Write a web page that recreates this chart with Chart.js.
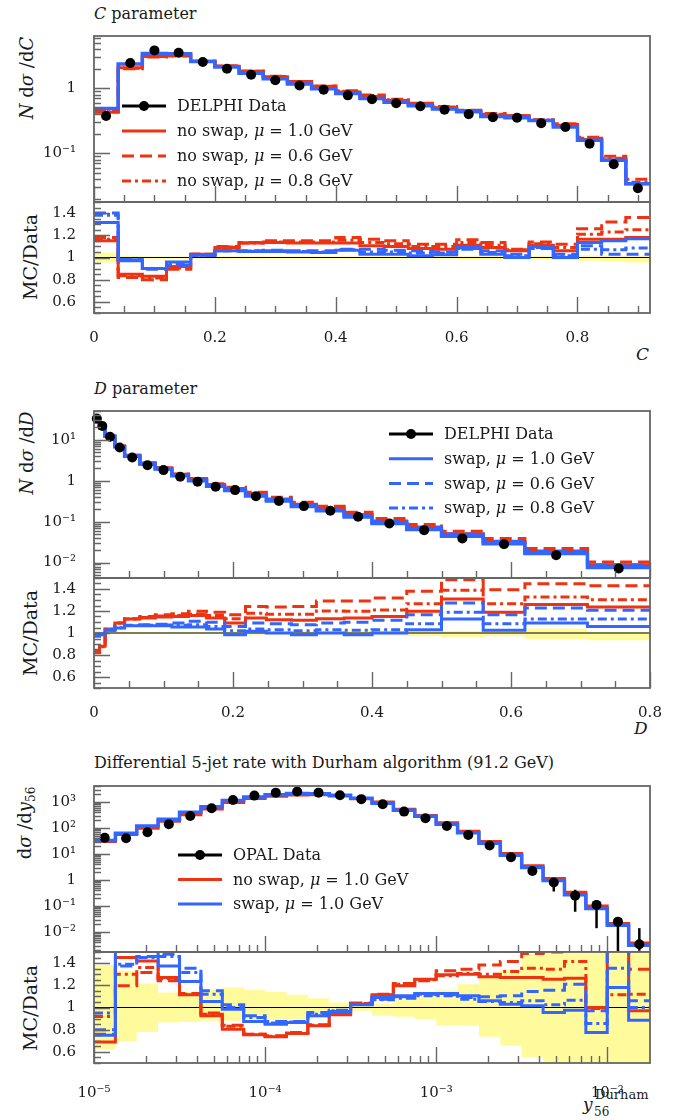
<!DOCTYPE html>
<html>
<head>
<meta charset="utf-8">
<script src="https://cdn.jsdelivr.net/npm/chart.js@4.4.1/dist/chart.umd.min.js"></script>
<style>
  body { margin: 0; width: 687px; height: 1120px; position: relative; overflow: hidden; background: #fff;
         font-family: "DejaVu Serif", serif; color: #1a1a1a; }
  .box { position: absolute; left: 0; width: 687px; }
  .t { position: absolute; white-space: nowrap; font-size: 16px; line-height: 20px; }
  .rot { position: absolute; white-space: nowrap; font-size: 18px; transform: translate(-50%, -50%) rotate(-90deg); }
  .rot.mc { font-size: 19px; }
</style>
</head>
<body>

<div class="t" style="left:94px;top:4px"><i>C</i> parameter</div>
<div class="rot" style="left:26px;top:78px"><i>N</i> d<i>σ</i> /d<i>C</i></div>
<div class="rot mc" style="left:30px;top:257px">MC/Data</div>
<div class="t" style="left:636px;top:344px;font-size:17px"><i>C</i></div>

<div class="t" style="left:94px;top:379px"><i>D</i> parameter</div>
<div class="rot" style="left:26px;top:453px"><i>N</i> d<i>σ</i> /d<i>D</i></div>
<div class="rot mc" style="left:30px;top:633px">MC/Data</div>
<div class="t" style="left:634px;top:718px;font-size:17px"><i>D</i></div>

<div class="t" style="left:94px;top:753px">Differential 5-jet rate with Durham algorithm (91.2 GeV)</div>
<div class="rot" style="left:26px;top:823px">d<i>σ</i> /d<i>y</i><sub style="font-size:12px">56</sub></div>
<div class="rot mc" style="left:30px;top:1008px">MC/Data</div>
<div class="t" style="left:595px;top:1085px;font-size:13px">Durham</div>
<div class="t" style="left:583px;top:1094px;font-size:17px"><i>y</i></div>
<div class="t" style="left:594px;top:1102px;font-size:12px">56</div>

<script>
// ---------------------------------------------------------------
// C parameter (DELPHI), bins of 0.04
// ---------------------------------------------------------------
const C_edges = [0, 0.04, 0.08, 0.12, 0.16, 0.20, 0.24, 0.28, 0.32, 0.36, 0.40, 0.44,
                 0.48, 0.52, 0.56, 0.60, 0.64, 0.68, 0.72, 0.76, 0.80, 0.84, 0.88, 0.92];
const C_data = [0.375, 2.45, 3.84, 3.54, 2.54, 2.01, 1.62, 1.33, 1.11, 0.95, 0.78, 0.68,
                0.59, 0.53, 0.47, 0.40, 0.36, 0.354, 0.29, 0.254, 0.14, 0.068, 0.029];
const C_noSwap10 = [0.43, 2.08, 3.15, 3.2, 2.62, 2.19, 1.83, 1.51, 1.25, 1.07, 0.88, 0.75,
                    0.65, 0.57, 0.505, 0.445, 0.39, 0.375, 0.32, 0.27, 0.163, 0.079, 0.034];
const C_noSwap06 = [0.44, 2.0, 3.05, 3.15, 2.62, 2.21, 1.84, 1.53, 1.28, 1.09, 0.92, 0.79,
                    0.68, 0.59, 0.525, 0.46, 0.41, 0.38, 0.33, 0.285, 0.176, 0.09, 0.04];
const C_noSwap08 = [0.435, 2.04, 3.1, 3.18, 2.62, 2.2, 1.83, 1.52, 1.27, 1.08, 0.9, 0.77,
                    0.665, 0.58, 0.515, 0.455, 0.4, 0.378, 0.326, 0.277, 0.17, 0.084, 0.036];
const C_swap10 = [0.49, 2.38, 3.45, 3.4, 2.59, 2.13, 1.71, 1.40, 1.165, 0.99, 0.83, 0.70,
                  0.61, 0.54, 0.48, 0.435, 0.37, 0.354, 0.32, 0.254, 0.159, 0.078, 0.034];
// MC/Data
const C_rNoSwap10 = [1.15, 0.85, 0.83, 0.92, 1.03, 1.09, 1.13, 1.135, 1.13, 1.13, 1.13, 1.105,
                     1.10, 1.08, 1.075, 1.11, 1.09, 1.06, 1.11, 1.06, 1.165, 1.165, 1.18];
const C_rNoSwap06 = [1.18, 0.82, 0.80, 0.895, 1.03, 1.10, 1.135, 1.15, 1.15, 1.15, 1.18, 1.165,
                     1.15, 1.12, 1.12, 1.16, 1.135, 1.075, 1.14, 1.12, 1.26, 1.32, 1.36];
const C_rNoSwap08 = [1.165, 0.835, 0.815, 0.905, 1.03, 1.095, 1.13, 1.14, 1.14, 1.14, 1.155, 1.135,
                     1.125, 1.10, 1.10, 1.135, 1.11, 1.07, 1.125, 1.09, 1.21, 1.23, 1.25];
const C_rSwap10 = [1.315, 0.97, 0.90, 0.96, 1.02, 1.06, 1.055, 1.055, 1.05, 1.045, 1.065, 1.03,
                   1.03, 1.015, 1.025, 1.09, 1.03, 1.0, 1.10, 1.0, 1.135, 1.15, 1.17];
const C_rSwap06 = [1.40, 0.985, 0.895, 0.93, 1.02, 1.06, 1.06, 1.065, 1.06, 1.06, 1.075, 1.075,
                   1.065, 1.06, 1.05, 1.075, 1.06, 1.03, 1.08, 1.03, 1.105, 1.03, 1.03];
const C_rSwap08 = [1.38, 0.98, 0.90, 0.945, 1.02, 1.06, 1.058, 1.06, 1.055, 1.05, 1.07, 1.05,
                   1.05, 1.04, 1.04, 1.08, 1.045, 1.015, 1.09, 1.015, 1.075, 1.07, 1.085];
const C_bandHi = [1.045, 1.015, 1.012, 1.012, 1.012, 1.012, 1.012, 1.012, 1.012, 1.012, 1.012, 1.012,
                  1.012, 1.012, 1.012, 1.015, 1.015, 1.015, 1.015, 1.015, 1.02, 1.02, 1.02];
const C_bandLo = [0.955, 0.985, 0.988, 0.988, 0.988, 0.988, 0.988, 0.988, 0.988, 0.988, 0.988, 0.988,
                  0.988, 0.988, 0.988, 0.985, 0.985, 0.985, 0.98, 0.975, 0.97, 0.965, 0.955];

// ---------------------------------------------------------------
// D parameter (DELPHI), variable bins
// ---------------------------------------------------------------
const D_edges = [0, 0.008, 0.016, 0.03, 0.044, 0.066, 0.088, 0.112, 0.136, 0.162, 0.188, 0.218,
                 0.248, 0.284, 0.32, 0.36, 0.40, 0.45, 0.50, 0.56, 0.62, 0.71, 0.80];
const D_data = [33, 21.7, 11.9, 6.5, 3.7, 2.4, 1.82, 1.25, 0.95, 0.71, 0.59, 0.42,
                0.32, 0.24, 0.185, 0.132, 0.0905, 0.062, 0.039, 0.028, 0.0152, 0.0072];
const D_noSwap10 = [27.5, 19.1, 12.3, 7.1, 4.17, 2.73, 2.08, 1.44, 1.1, 0.807, 0.643, 0.477,
                    0.358, 0.268, 0.209, 0.15, 0.104, 0.074, 0.051, 0.0333, 0.0191, 0.0089];
const D_noSwap06 = [27.1, 18.9, 12.3, 7.1, 4.18, 2.76, 2.12, 1.47, 1.14, 0.843, 0.689, 0.521,
                    0.396, 0.298, 0.239, 0.17, 0.119, 0.0856, 0.0579, 0.039, 0.022, 0.0103];
const D_swap10 = [32, 21.4, 12.2, 6.8, 3.95, 2.56, 1.94, 1.32, 1.0, 0.736, 0.581, 0.426,
                  0.32, 0.236, 0.185, 0.13, 0.0905, 0.0639, 0.044, 0.0287, 0.0166, 0.0076];
const D_swap06 = [32.5, 21.5, 12.3, 6.8, 3.96, 2.58, 1.97, 1.36, 1.05, 0.779, 0.625, 0.458,
                  0.347, 0.258, 0.202, 0.145, 0.101, 0.0724, 0.0496, 0.0327, 0.0187, 0.0087];
const D_swap08 = [32.3, 21.4, 12.2, 6.8, 3.95, 2.57, 1.95, 1.34, 1.02, 0.753, 0.602, 0.435,
                  0.33, 0.245, 0.19, 0.135, 0.093, 0.0673, 0.0463, 0.0304, 0.0171, 0.0081];
const D_rNoSwap10 = [0.833, 0.88, 1.036, 1.09, 1.127, 1.136, 1.145, 1.15, 1.158, 1.136, 1.09, 1.136,
                     1.12, 1.115, 1.13, 1.136, 1.15, 1.197, 1.31, 1.188, 1.258, 1.236];
const D_rNoSwap06 = [0.82, 0.87, 1.03, 1.09, 1.13, 1.15, 1.167, 1.176, 1.197, 1.188, 1.167, 1.24,
                     1.236, 1.24, 1.29, 1.29, 1.318, 1.38, 1.485, 1.394, 1.448, 1.43];
const D_rNoSwap08 = [0.825, 0.875, 1.033, 1.09, 1.128, 1.14, 1.155, 1.16, 1.17, 1.16, 1.13, 1.18,
                     1.17, 1.17, 1.2, 1.197, 1.21, 1.267, 1.388, 1.267, 1.327, 1.303];
const D_rSwap10 = [0.97, 0.985, 1.025, 1.045, 1.067, 1.067, 1.067, 1.055, 1.055, 1.036, 0.985, 1.015,
                   1.0, 0.985, 1.0, 0.985, 1.0, 1.03, 1.127, 1.024, 1.09, 1.06];
const D_rSwap06 = [0.985, 0.99, 1.03, 1.05, 1.07, 1.075, 1.08, 1.09, 1.106, 1.097, 1.06, 1.09,
                   1.085, 1.076, 1.09, 1.097, 1.115, 1.167, 1.273, 1.167, 1.227, 1.206];
const D_rSwap08 = [0.98, 0.987, 1.027, 1.047, 1.068, 1.07, 1.072, 1.07, 1.075, 1.06, 1.02, 1.036,
                   1.03, 1.02, 1.03, 1.024, 1.03, 1.085, 1.188, 1.085, 1.127, 1.127];
const D_bandHi = [1.02, 1.015, 1.01, 1.01, 1.01, 1.01, 1.01, 1.01, 1.01, 1.01, 1.012, 1.012,
                  1.012, 1.015, 1.02, 1.025, 1.025, 1.03, 1.02, 1.02, 1.04, 1.01];
const D_bandLo = [0.98, 0.985, 0.99, 0.99, 0.99, 0.99, 0.99, 0.99, 0.99, 0.99, 0.988, 0.985,
                  0.985, 0.982, 0.98, 0.975, 0.975, 0.97, 0.96, 0.97, 0.945, 0.935];

// ---------------------------------------------------------------
// Differential 5-jet rate, Durham (OPAL), 8 bins per decade
// ---------------------------------------------------------------
const Y_edges = [1.0e-5, 1.334e-5, 1.778e-5, 2.371e-5, 3.162e-5, 4.217e-5, 5.623e-5, 7.499e-5,
                 1.0e-4, 1.334e-4, 1.778e-4, 2.371e-4, 3.162e-4, 4.217e-4, 5.623e-4, 7.499e-4,
                 1.0e-3, 1.334e-3, 1.778e-3, 2.371e-3, 3.162e-3, 4.217e-3, 5.623e-3, 7.499e-3,
                 1.0e-2, 1.334e-2, 1.778e-2];
const Y_data = [42, 40, 68, 138, 290, 570, 1190, 1750, 2280, 2500, 2280, 1800, 1280,
                815, 425, 235, 119, 54, 21, 7.5, 2.2, 0.8, 0.25, 0.11, 0.025, 0.0034];
const Y_errLo = [null, null, null, null, null, null, null, null, null, null, null, null, null,
                 null, null, null, null, null, null, null, 1.9, 0.36, 0.06, 0.014, 0.0005, 0.0019];
const Y_errHi = [null, null, null, null, null, null, null, null, null, null, null, null, null,
                 null, null, null, null, null, null, null, 2.6, 1.1, 0.42, 0.16, 0.035, 0.014];
const Y_noSwap10 = [30, 56, 97, 180, 320, 540, 950, 1350, 1650, 1850, 1880, 1700, 1320,
                    1000, 520, 300, 160, 74, 30, 10.5, 3.5, 1.15, 0.34, 0.1, 0.021, 0.0038];
const Y_swap10 = [33, 62, 118, 215, 400, 650, 1130, 1560, 1900, 2100, 2050, 1800, 1380,
                  900, 480, 280, 140, 65, 26, 9.0, 3.0, 0.95, 0.27, 0.08, 0.018, 0.0031];
const Y_rNoSwap10 = [0.69, 1.45, 1.42, 1.27, 1.114, 0.925, 0.805, 0.754, 0.736, 0.766, 0.835, 0.934, 1.03,
                     1.114, 1.195, 1.255, 1.294, 1.30, 1.276, 1.27, 1.27, 1.255, 1.264, 1.0, 1.6, 0.97];
const Y_rNoSwap06 = [0.76, 1.195, 1.315, 1.24, 1.126, 0.95, 0.84, 0.76, 0.745, 0.775, 0.845, 0.945, 1.04,
                     1.12, 1.216, 1.24, 1.33, 1.345, 1.384, 1.414, 1.486, 1.5, 1.55, 1.6, 1.6, 1.345];
const Y_rNoSwap08 = [0.92, 1.30, 1.36, 1.26, 1.12, 0.94, 0.83, 0.76, 0.74, 0.77, 0.84, 0.94, 1.035,
                     1.11, 1.21, 1.25, 1.285, 1.306, 1.30, 1.324, 1.354, 1.345, 1.414, 0.99, 1.114, 1.12];
const Y_rSwap10 = [0.75, 1.6, 1.6, 1.375, 1.234, 1.054, 0.985, 0.874, 0.85, 0.865, 0.925, 0.964, 1.024,
                   1.09, 1.105, 1.126, 1.126, 1.105, 1.06, 1.03, 1.015, 0.955, 0.976, 0.775, 1.18, 0.886];
const Y_rSwap06 = [0.80, 1.375, 1.46, 1.48, 1.354, 1.15, 1.024, 0.925, 0.874, 0.874, 0.955, 0.975, 1.03,
                   1.075, 1.096, 1.12, 1.114, 1.09, 1.096, 1.105, 1.144, 1.156, 1.21, 0.97, 1.55, 1.06];
const Y_rSwap08 = [0.95, 1.39, 1.45, 1.46, 1.315, 1.12, 1.0, 0.91, 0.86, 0.87, 0.94, 0.97, 1.028,
                   1.07, 1.084, 1.105, 1.105, 1.075, 1.054, 1.045, 1.06, 1.024, 1.066, 0.856, 1.354, 1.0];
const Y_bandHi = [1.384, 1.33, 1.216, 1.135, 1.14, 1.16, 1.18, 1.16, 1.14, 1.114, 1.084, 1.045, 1.03,
                  1.036, 1.075, 1.12, 1.156, 1.21, 1.27, 1.345, 1.48, 1.6, 1.6, 1.6, 1.6, 1.6];
const Y_bandLo = [0.625, 0.694, 0.78, 0.865, 0.87, 0.88, 0.88, 0.88, 0.885, 0.89, 0.905, 0.94, 0.97,
                  0.925, 0.916, 0.895, 0.835, 0.835, 0.736, 0.655, 0.55, 0.4, 0.4, 0.4, 0.4, 0.4];

// tick labels
const ratioTicks = [0.6, 0.8, 1, 1.2, 1.4];
const ratioLabels = ['0.6', '0.8', '1', '1.2', '1.4'];
const linTicks = [0, 0.2, 0.4, 0.6, 0.8];
const linLabels = ['0', '0.2', '0.4', '0.6', '0.8'];
const yjTicks = [1e-5, 1e-4, 1e-3, 1e-2];
const yjLabels = ['10⁻⁵', '10⁻⁴', '10⁻³', '10⁻²'];
const C_mainTicks = [0.1, 1];
const C_mainLabels = ['10⁻¹', '1'];
const D_mainTicks = [0.01, 0.1, 1, 10];
const D_mainLabels = ['10⁻²', '10⁻¹', '1', '10¹'];
const Y_mainTicks = [0.01, 0.1, 1, 10, 100, 1000];
const Y_mainLabels = ['10⁻²', '10⁻¹', '1', '10¹', '10²', '10³'];

// ---------------------------------------------------------------
const RED = '#ee3311', BLUE = '#3366ff', BAND = '#fffb9c', FRAME = '#666';
const DASH = [12, 6], DASHDOT = [9, 4, 3, 4];
const PAD = 26;   // room above/below each frame so tick-label padding never moves the frame
const FONT = '"DejaVu Serif", serif';

function stepPts(edges, vals) {
  return edges.map((e, i) => ({ x: e, y: vals[Math.min(i, vals.length - 1)] }));
}
function centerPts(edges, vals, log) {
  return vals.map((v, i) => ({
    x: log ? Math.sqrt(edges[i] * edges[i + 1]) : (edges[i] + edges[i + 1]) / 2, y: v }));
}
function step(edges, vals, color, dash, width, order) {
  return { data: stepPts(edges, vals), borderColor: color, borderDash: dash || [], borderWidth: width,
           stepped: true, pointRadius: 0, fill: false, order: order, clip: 0,
           borderJoinStyle: 'miter', borderCapStyle: 'butt' };
}
function dataSet(edges, vals, log, lo, hi) {
  return { data: centerPts(edges, vals, log), showLine: false, pointRadius: 5,
           pointBackgroundColor: '#000', pointBorderColor: '#000', pointBorderWidth: 0,
           order: 0, clip: 6, errLo: lo, errHi: hi };
}
function ratioSets(edges, r, lo, hi) {
  const x0 = edges[0], x1 = edges[edges.length - 1];
  return [
    { data: stepPts(edges, hi), stepped: true, borderWidth: 0, pointRadius: 0,
      backgroundColor: BAND, fill: '+1', order: 20, clip: 0 },
    { data: stepPts(edges, lo), stepped: true, borderWidth: 0, pointRadius: 0, fill: false, order: 21, clip: 0 },
    { data: [{ x: x0, y: 1 }, { x: x1, y: 1 }], borderColor: '#000', borderWidth: 1,
      pointRadius: 0, fill: false, order: 10, clip: 0 },
    step(edges, r[0], RED, null, 3, 6),
    step(edges, r[1], RED, DASH, 3, 7),
    step(edges, r[2], RED, DASHDOT, 3, 8),
    step(edges, r[3], BLUE, null, 3, 3),
    step(edges, r[4], BLUE, DASH, 3, 4),
    step(edges, r[5], BLUE, DASHDOT, 3, 5),
  ];
}

// tick marks inside the frame, plus frame and error bars
function tickList(scale, st) {
  const out = [];
  if (scale.type === 'logarithmic') {
    for (let e = Math.floor(Math.log10(scale.min)); e <= Math.ceil(Math.log10(scale.max)); e++) {
      for (let m = 1; m <= 9; m++) {
        const v = m * Math.pow(10, e);
        if (v >= scale.min * 0.999 && v <= scale.max * 1.001) out.push({ v: v, major: m === 1 });
      }
    }
  } else {
    for (let k = Math.ceil(scale.min / st[0] - 1e-6); k * st[0] <= scale.max + 1e-9; k++) {
      const v = k * st[0], q = v / st[1];
      out.push({ v: v, major: Math.abs(q - Math.round(q)) < 1e-6 });
    }
  }
  return out;
}
const framePlugin = {
  id: 'frame',
  afterDatasetsDraw(chart, args, opts) {
    const { ctx, chartArea: a, scales } = chart;
    ctx.save();
    // error bars
    ctx.beginPath();
    ctx.rect(a.left, a.top, a.width, a.height);
    ctx.clip();
    chart.data.datasets.forEach((ds, i) => {
      if (!ds.errLo) return;
      const meta = chart.getDatasetMeta(i);
      ctx.strokeStyle = '#000';
      ctx.lineWidth = 2.5;
      ds.errLo.forEach((lo, j) => {
        if (lo == null) return;
        const x = meta.data[j].x;
        ctx.beginPath();
        ctx.moveTo(x, scales.y.getPixelForValue(lo));
        ctx.lineTo(x, scales.y.getPixelForValue(ds.errHi[j]));
        ctx.stroke();
      });
    });
    ctx.restore();
    ctx.save();
    ctx.strokeStyle = FRAME;
    ctx.lineWidth = 1.4;
    ctx.beginPath();
    tickList(scales.x, opts.xStep).forEach(t => {
      const px = Math.round(scales.x.getPixelForValue(t.v)) + 0.5;
      ctx.moveTo(px, a.bottom);
      ctx.lineTo(px, a.bottom - (t.major ? 16 : 7));
    });
    tickList(scales.y, opts.yStep).forEach(t => {
      const py = Math.round(scales.y.getPixelForValue(t.v)) + 0.5;
      ctx.moveTo(a.left, py);
      ctx.lineTo(a.left + (t.major ? 16 : 7), py);
    });
    ctx.stroke();
    ctx.lineWidth = 1.8;
    ctx.strokeRect(a.left, a.top, a.width, a.height);
    ctx.restore();
  }
};

// legend drawn inside the plot area
const legendPlugin = {
  id: 'legendBox',
  afterDraw(chart, args, opts) {
    if (!opts.items) return;
    const { ctx, chartArea: a } = chart;
    ctx.save();
    opts.items.forEach((it, i) => {
      const y = a.top + opts.y + i * opts.rowH;
      const x0 = a.left + opts.x, x1 = x0 + 44;
      ctx.strokeStyle = it.color;
      ctx.lineWidth = 3;
      ctx.setLineDash(it.dash || []);
      ctx.beginPath();
      ctx.moveTo(x0, y);
      ctx.lineTo(x1, y);
      ctx.stroke();
      ctx.setLineDash([]);
      if (it.marker) {
        ctx.fillStyle = '#000';
        ctx.beginPath();
        ctx.arc((x0 + x1) / 2, y, 5, 0, Math.PI * 2);
        ctx.fill();
      }
      ctx.fillStyle = '#1a1a1a';
      ctx.textBaseline = 'middle';
      let tx = x1 + 11;
      it.label.split(/(μ)/).forEach(part => {
        ctx.font = (part === 'μ' ? 'italic ' : '') + '16px ' + FONT;
        ctx.fillText(part, tx, y + 1);
        tx += ctx.measureText(part).width;
      });
    });
    ctx.restore();
  }
};

function panel(frameTop, frameBottom, xAxisH, o) {
  const below = xAxisH || PAD;
  const div = document.createElement('div');
  div.className = 'box';
  div.style.top = (frameTop - PAD) + 'px';
  div.style.height = (frameBottom - frameTop + PAD + below) + 'px';
  const cv = document.createElement('canvas');
  div.appendChild(cv);
  document.body.appendChild(div);
  const tickFont = { family: FONT, size: 15 };
  return new Chart(cv, {
    type: 'line',
    data: { datasets: o.datasets },
    options: {
      animation: false, responsive: true, maintainAspectRatio: false,
      layout: { padding: { top: PAD, right: 37, left: 0, bottom: xAxisH ? 0 : PAD } },
      plugins: {
        legend: { display: false }, tooltip: { enabled: false },
        frame: { xStep: o.xStep, yStep: o.yStep },
        legendBox: o.legend || {},
      },
      scales: {
        x: {
          type: o.xType, min: o.xMin, max: o.xMax,
          grid: { display: false }, border: { display: false },
          ticks: { display: !!o.xLabels, font: tickFont, color: '#1a1a1a', padding: o.xPad || 8,
                   autoSkip: false, maxRotation: 0,
                   callback: (v, i) => (o.xLabels ? o.xLabels[i] : '') },
          afterBuildTicks: s => { s.ticks = (o.xTicks || []).map(v => ({ value: v })); },
          afterFit: s => { s.height = xAxisH; },
        },
        y: {
          type: o.yType, min: o.yMin, max: o.yMax,
          grid: { display: false }, border: { display: false },
          ticks: { font: tickFont, color: '#1a1a1a', padding: 10, autoSkip: false,
                   callback: (v, i) => o.yLabels[i] },
          afterBuildTicks: s => { s.ticks = o.yTicks.map(v => ({ value: v })); },
          afterFit: s => { s.width = 94; },
        },
      },
    },
    plugins: [framePlugin, legendPlugin],
  });
}

function drawAll() {
  // ----- panel 1: C parameter -----
  panel(36, 202, 0, {
    xType: 'linear', xMin: 0, xMax: 0.92, xStep: [0.05, 0.2],
    yType: 'logarithmic', yMin: 0.0178, yMax: 6.4, yTicks: C_mainTicks, yLabels: C_mainLabels,
    datasets: [
      dataSet(C_edges, C_data, false),
      step(C_edges, C_swap10, BLUE, null, 3.5, 1),
      step(C_edges, C_noSwap10, RED, null, 3, 2),
      step(C_edges, C_noSwap06, RED, DASH, 3, 3),
      step(C_edges, C_noSwap08, RED, DASHDOT, 3, 4),
    ],
    legend: { x: 28, y: 70, rowH: 25, items: [
      { label: 'DELPHI Data', color: '#000', marker: true },
      { label: 'no swap, μ = 1.0 GeV', color: RED },
      { label: 'no swap, μ = 0.6 GeV', color: RED, dash: DASH },
      { label: 'no swap, μ = 0.8 GeV', color: RED, dash: DASHDOT },
    ] },
  });
  panel(202, 313, 32, {
    xType: 'linear', xMin: 0, xMax: 0.92, xStep: [0.05, 0.2], xTicks: linTicks, xLabels: linLabels,
    yType: 'linear', yMin: 0.5, yMax: 1.5, yStep: [0.05, 0.2], yTicks: ratioTicks, yLabels: ratioLabels,
    datasets: ratioSets(C_edges, [C_rNoSwap10, C_rNoSwap06, C_rNoSwap08, C_rSwap10, C_rSwap06, C_rSwap08],
                        C_bandLo, C_bandHi),
  });

  // ----- panel 2: D parameter -----
  panel(411, 578, 0, {
    xType: 'linear', xMin: 0, xMax: 0.8, xStep: [0.05, 0.2],
    yType: 'logarithmic', yMin: 0.0042, yMax: 50.6, yTicks: D_mainTicks, yLabels: D_mainLabels,
    datasets: [
      dataSet(D_edges, D_data, false),
      step(D_edges, D_swap10, BLUE, null, 3.5, 1),
      step(D_edges, D_swap06, BLUE, DASH, 3, 2),
      step(D_edges, D_swap08, BLUE, DASHDOT, 3, 3),
      step(D_edges, D_noSwap10, RED, null, 3, 4),
      step(D_edges, D_noSwap06, RED, DASH, 3, 5),
    ],
    legend: { x: 295, y: 23, rowH: 24.7, items: [
      { label: 'DELPHI Data', color: '#000', marker: true },
      { label: 'swap, μ = 1.0 GeV', color: BLUE },
      { label: 'swap, μ = 0.6 GeV', color: BLUE, dash: DASH },
      { label: 'swap, μ = 0.8 GeV', color: BLUE, dash: DASHDOT },
    ] },
  });
  panel(578, 688, 32, {
    xType: 'linear', xMin: 0, xMax: 0.8, xStep: [0.05, 0.2], xTicks: linTicks, xLabels: linLabels,
    yType: 'linear', yMin: 0.5, yMax: 1.5, yStep: [0.05, 0.2], yTicks: ratioTicks, yLabels: ratioLabels,
    datasets: ratioSets(D_edges, [D_rNoSwap10, D_rNoSwap06, D_rNoSwap08, D_rSwap10, D_rSwap06, D_rSwap08],
                        D_bandLo, D_bandHi),
  });

  // ----- panel 3: 5-jet rate -----
  panel(786, 952, 0, {
    xType: 'logarithmic', xMin: 1e-5, xMax: 1.778e-2,
    yType: 'logarithmic', yMin: 0.0017, yMax: 4100, yTicks: Y_mainTicks, yLabels: Y_mainLabels,
    datasets: [
      dataSet(Y_edges, Y_data, true, Y_errLo, Y_errHi),
      step(Y_edges, Y_swap10, BLUE, null, 3.5, 1),
      step(Y_edges, Y_noSwap10, RED, null, 3, 2),
    ],
    legend: { x: 84, y: 69, rowH: 24.5, items: [
      { label: 'OPAL Data', color: '#000', marker: true },
      { label: 'no swap, μ = 1.0 GeV', color: RED },
      { label: 'swap, μ = 1.0 GeV', color: BLUE },
    ] },
  });
  panel(952, 1063, 36, {
    xType: 'logarithmic', xMin: 1e-5, xMax: 1.778e-2, xTicks: yjTicks, xLabels: yjLabels, xPad: 13,
    yType: 'linear', yMin: 0.5, yMax: 1.5, yStep: [0.05, 0.2], yTicks: ratioTicks, yLabels: ratioLabels,
    datasets: ratioSets(Y_edges, [Y_rNoSwap10, Y_rNoSwap06, Y_rNoSwap08, Y_rSwap10, Y_rSwap06, Y_rSwap08],
                        Y_bandLo, Y_bandHi),
  });
}

// make sure the serif face is ready before the canvases paint text
Promise.all([
  document.fonts.load('16px "DejaVu Serif"'),
  document.fonts.load('italic 16px "DejaVu Serif"'),
]).then(drawAll, drawAll);
</script>
</body>
</html>
